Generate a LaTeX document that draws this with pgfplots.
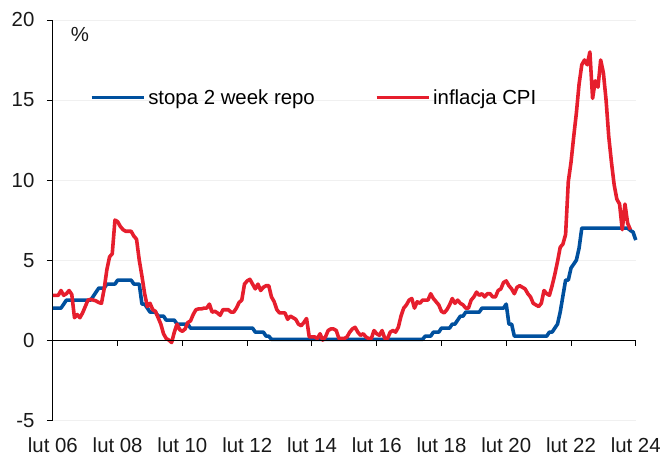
\documentclass[border=0pt]{standalone}
\usepackage{fontspec}
\setmainfont{Liberation Sans}
\usepackage{pgfplots}
\pgfplotsset{compat=1.18}
\definecolor{ingblue}{RGB}{0,80,158}
\definecolor{ingred}{RGB}{230,30,45}
\begin{document}
\begin{tikzpicture}
\begin{axis}[
  scale only axis,
  width=584bp, height=401bp,
  xmin=0, xmax=216, ymin=-5, ymax=20,
  axis y line*=left,
  axis x line*=bottom,
  x axis line style={draw=none},
  y axis line style={black, line width=0.9bp},
  xtick={0,24,48,72,96,120,144,168,192,216},
  xticklabels={lut 06,lut 08,lut 10,lut 12,lut 14,lut 16,lut 18,lut 20,lut 22,lut 24},
  ytick={-5,0,5,10,15,20},
  yticklabels={-5,0,5,10,15,20},
  major x tick style={draw=none},
  tick align=outside,
  major tick length=6bp,
  y tick style={black, line width=0.9bp},
  ymajorgrids,
  grid style={gray!12, line width=0.8bp},
  tick label style={font=\fontsize{20.5}{24}\selectfont, text=black!90},
  xticklabel style={yshift=-8bp},
  yticklabel style={xshift=-9bp},
  legend columns=2,
  legend style={at={(axis cs:13.6,15.15)}, anchor=west, draw=none, fill=none,
    font=\fontsize{20.5}{24}\selectfont, inner sep=0pt,
    /tikz/every even column/.append style={column sep=58bp}},
  legend image code/.code={\draw[#1] (0bp,0bp) -- (53bp,0bp);},
  clip=false,
]
\addplot[ingblue, line width=3.6bp, line join=round] coordinates {
(0,2.0) (3,2.0) (4,2.25) (5,2.5) (14,2.5) (15,2.75) (16,3.0) (17,3.25) (19,3.25)
(20,3.5) (23,3.5) (24,3.75) (29,3.75) (30,3.5) (32,3.5) (33,2.25) (34,2.25) (35,2.0)
(36,1.75) (38,1.75) (39,1.5) (41,1.5) (42,1.25) (45,1.25) (46,1.0) (50,1.0) (51,0.75)
(74,0.75) (75,0.5) (78,0.5) (79,0.25) (80,0.25) (81,0.05) (137,0.05) (138,0.25) (140,0.25)
(141,0.5) (143,0.5) (144,0.75) (147,0.75) (148,1.0) (149,1.0) (150,1.25) (151,1.5) (152,1.5)
(153,1.75) (158,1.75) (159,2.0) (167,2.0) (168,2.25) (169,1.0) (170,1.0) (171,0.25) (183,0.25)
(184,0.5) (185,0.5) (186,0.75) (187,1.0) (188,1.75) (189,2.75) (190,3.75) (191,3.75) (192,4.5)
(193,4.75) (194,5.0) (195,5.75) (196,7.0) (213,7.0) (214,6.85) (215,6.75) (216,6.25)
};
\addlegendentry{stopa 2 week repo}
\addplot[ingred, line width=3.6bp, line join=round] coordinates {
(0,2.8) (1,2.8) (2,2.8) (3,3.1) (4,2.8) (5,2.9) (6,3.1) (7,2.85) (8,1.4) (9,1.6)
(10,1.4) (11,1.7) (12,2.1) (13,2.5) (14,2.55) (15,2.5) (16,2.45) (17,2.35) (18,2.3) (19,3.2)
(20,4.4) (21,5.2) (22,5.4) (23,7.5) (24,7.4) (25,7.1) (26,6.9) (27,6.8) (28,6.8) (29,6.8)
(30,6.5) (31,6.3) (32,5.0) (33,4.0) (34,2.9) (35,2.1) (36,2.3) (37,1.9) (38,1.8) (39,1.4)
(40,1.0) (41,0.4) (42,0.1) (43,0.0) (44,-0.15) (45,0.5) (46,1.0) (47,0.65) (48,0.55) (49,0.7)
(50,1.1) (51,1.2) (52,1.6) (53,1.9) (54,1.95) (55,1.95) (56,2.0) (57,2.0) (58,2.25) (59,1.75)
(60,1.8) (61,1.7) (62,1.55) (63,1.9) (64,1.9) (65,1.9) (66,1.75) (67,1.75) (68,2.0) (69,2.35)
(70,2.5) (71,3.5) (72,3.7) (73,3.8) (74,3.5) (75,3.2) (76,3.5) (77,3.1) (78,3.3) (79,3.4)
(80,3.4) (81,2.7) (82,2.4) (83,1.9) (84,1.7) (85,1.7) (86,1.7) (87,1.3) (88,1.5) (89,1.4)
(90,1.3) (91,1.0) (92,0.9) (93,1.1) (94,1.35) (95,0.2) (96,0.2) (97,0.2) (98,0.1) (99,0.4)
(100,0.0) (101,0.2) (102,0.6) (103,0.7) (104,0.7) (105,0.6) (106,0.1) (107,0.1) (108,0.1) (109,0.2)
(110,0.5) (111,0.7) (112,0.8) (113,0.5) (114,0.3) (115,0.4) (116,0.2) (117,0.1) (118,0.1) (119,0.6)
(120,0.4) (121,0.3) (122,0.6) (123,0.1) (124,0.1) (125,0.5) (126,0.6) (127,0.5) (128,0.8) (129,1.5)
(130,2.0) (131,2.2) (132,2.5) (133,2.6) (134,2.0) (135,2.4) (136,2.3) (137,2.5) (138,2.5) (139,2.5)
(140,2.9) (141,2.6) (142,2.4) (143,2.2) (144,1.8) (145,1.7) (146,1.9) (147,2.2) (148,2.6) (149,2.3)
(150,2.5) (151,2.3) (152,2.2) (153,2.0) (154,2.0) (155,2.5) (156,2.7) (157,3.0) (158,2.8) (159,2.9)
(160,2.7) (161,2.9) (162,2.9) (163,2.7) (164,2.7) (165,3.1) (166,3.2) (167,3.6) (168,3.7) (169,3.4)
(170,3.2) (171,2.9) (172,3.3) (173,3.4) (174,3.3) (175,3.2) (176,2.9) (177,2.7) (178,2.3) (179,2.2)
(180,2.1) (181,2.3) (182,3.1) (183,2.9) (184,2.8) (185,3.4) (186,4.1) (187,4.9) (188,5.8) (189,6.0)
(190,6.6) (191,9.9) (192,11.1) (193,12.7) (194,14.2) (195,16.0) (196,17.2) (197,17.5) (198,17.2) (199,18.0)
(200,15.1) (201,16.2) (202,15.8) (203,17.5) (204,16.7) (205,15.0) (206,12.7) (207,11.1) (208,9.7) (209,8.8)
(210,8.5) (211,6.9) (212,8.5) (213,7.3) (214,6.9)
};
\addlegendentry{inflacja CPI}
% zero line with ticks
\draw[black, line width=0.9bp] (axis cs:0,0) -- (axis cs:216,0);
\draw[black, line width=0.9bp] (axis cs:0,0) -- (axis cs:0,-0.37);
\draw[black, line width=0.9bp] (axis cs:24,0) -- (axis cs:24,-0.37);
\draw[black, line width=0.9bp] (axis cs:48,0) -- (axis cs:48,-0.37);
\draw[black, line width=0.9bp] (axis cs:72,0) -- (axis cs:72,-0.37);
\draw[black, line width=0.9bp] (axis cs:96,0) -- (axis cs:96,-0.37);
\draw[black, line width=0.9bp] (axis cs:120,0) -- (axis cs:120,-0.37);
\draw[black, line width=0.9bp] (axis cs:144,0) -- (axis cs:144,-0.37);
\draw[black, line width=0.9bp] (axis cs:168,0) -- (axis cs:168,-0.37);
\draw[black, line width=0.9bp] (axis cs:192,0) -- (axis cs:192,-0.37);
\draw[black, line width=0.9bp] (axis cs:216,0) -- (axis cs:216,-0.37);
\node[font=\fontsize{20.5}{24}\selectfont, text=black!90] at (axis cs:10,19.1) {\%};
\end{axis}
\path (current axis.south west) ++(-53bp,-36bp) rectangle ++(664bp,457bp);
\end{tikzpicture}
\end{document}
